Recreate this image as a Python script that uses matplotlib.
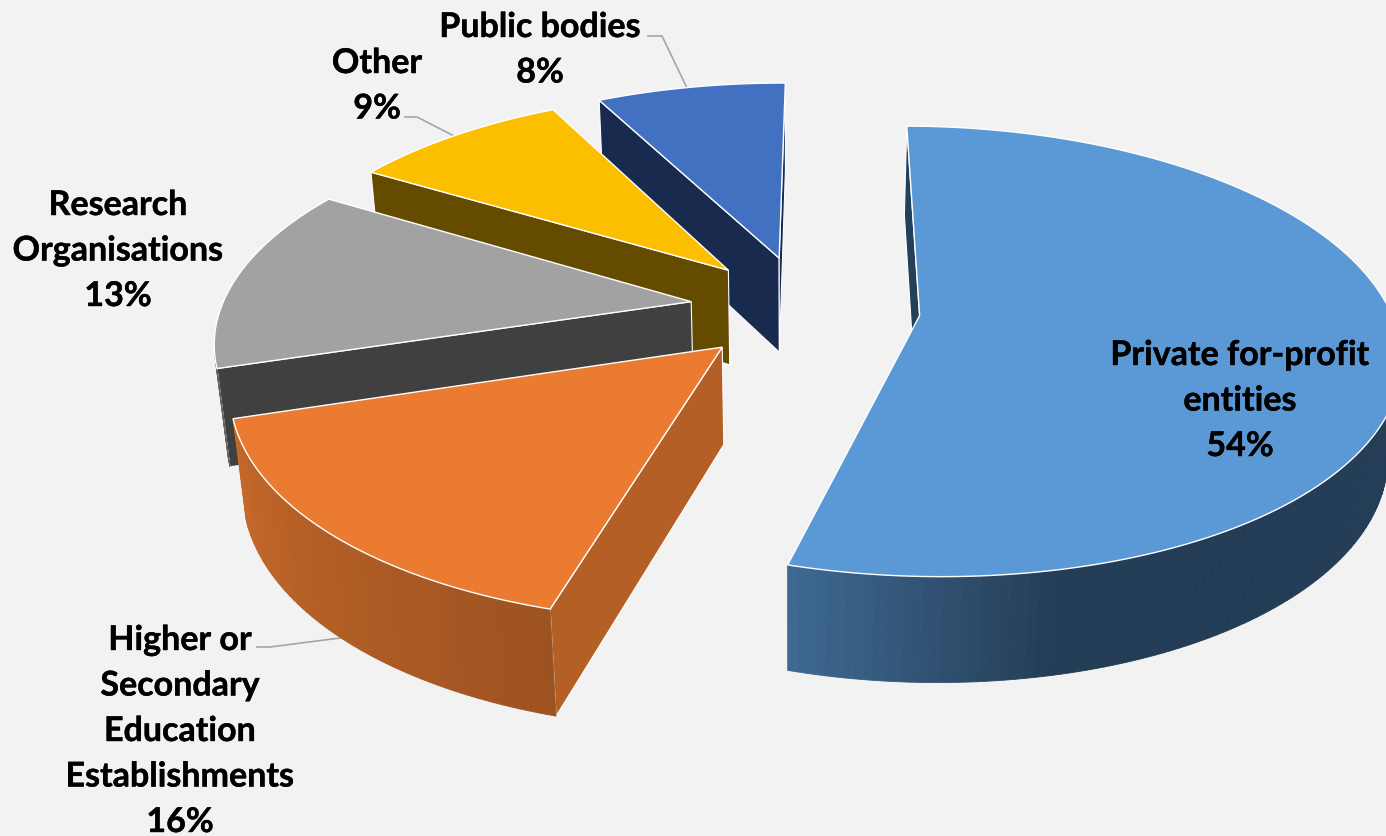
import numpy as np
import matplotlib
matplotlib.use('Agg')
from matplotlib import pyplot as plt
from matplotlib.colors import to_rgb
from matplotlib.patches import Polygon
from matplotlib import patheffects

categories = ['Private for-profit entities', 'Higher or Secondary Education Establishments',
              'Research Organisations', 'Other', 'Public bodies']
# shares, the labels show them rounded
values = [54.3, 15.8, 13.4, 8.8, 7.7]
top_drawn = ['#5b99d6', '#ea7b31', '#a2a2a2', '#fbbf00', '#4371c2']
wall_colors = ['#23405a', '#b35f25', '#404040', '#654b00', '#182b4f']
label_lines = [['Private for-profit', 'entities', '54%'],
               ['Higher or', 'Secondary', 'Education', 'Establishments', '16%'],
               ['Research', 'Organisations', '13%'],
               ['Other', '9%'],
               ['Public bodies', '8%']]
label_x = [1240, 180, 118, 377, 540]
label_y = [355, 640, 205, 63, 27]
line_step = 45.5

# projection of the pie plane, fitted by eye
cx, cy = 805, 308
fx, fy = 470, 217.2
k = 0.158
start_angle = 0.4
explode = 0.245
seg_deg = 1.0


def project(x, y):
    w = 1 + k * y
    return cx + fx * x / w, cy - fy * y / w


def drop(x, y):
    # point on the bottom face, below the top face point
    w = 1 + k * y
    px, py = project(x, y)
    depth = 96 * w ** -0.55
    return px + (790 - px) * 0.00023 * depth, py + depth


def area(pts):
    p = np.array(pts)
    q = np.roll(p, -1, axis=0)
    return np.sum(p[:, 0] * q[:, 1] - q[:, 0] * p[:, 1]) / 2


def shade(color, f):
    return tuple(c * f for c in to_rgb(color))


def rim_shade(i, theta):
    if i == 0:
        return np.interp(theta, [0, 168, 196], [0.40, 0.40, 0.69])
    if i == 1:
        return np.interp(theta, [196, 253.6], [0.67, 0.85])
    return 0.40 if i != 2 else 0.62


fig = plt.figure(figsize=(13.86, 8.36), dpi=100, facecolor='#f2f2f2')
ax = fig.add_axes([0, 0, 1, 1])
ax.set_xlim(0, 1386)
ax.set_ylim(836, 0)
ax.axis('off')

# leader lines go under the slices
leader = dict(color='#a6a6a6', lw=1.2, zorder=1)
ax.plot([648, 662, 688], [36, 36, 90], **leader)
ax.plot([405, 417, 456], [117, 117, 137], **leader)
ax.plot([257, 270, 340], [647, 647, 638], **leader)

shares = np.array(values) / sum(values) * 360
ends = start_angle + np.cumsum(shares)
starts = ends - shares

# back slices first so the nearer ones cover them
z = 2
for i in [4, 3, 2, 1, 0]:
    mid = np.radians((starts[i] + ends[i]) / 2)
    ax0, ay0 = explode * np.sin(mid), explode * np.cos(mid)
    n = int(shares[i] / seg_deg) + 1
    th = np.linspace(starts[i], ends[i], n + 1)
    xs = ax0 + np.sin(np.radians(th))
    ys = ay0 + np.cos(np.radians(th))

    plane = [(ax0, ay0)] + list(zip(xs, ys))
    ring = plane + [plane[0]]
    for j in range(len(ring) - 1):
        a, b = ring[j], ring[j + 1]
        quad = [project(*a), project(*b), drop(*b), drop(*a)]
        if area(quad) >= 0:
            continue
        if j == 0 or j == len(ring) - 2:
            ax.add_patch(Polygon(quad, closed=True, fc=wall_colors[i], ec='white', lw=0.8, zorder=z))
        else:
            c = shade(top_drawn[i], rim_shade(i, (th[j - 1] + th[j]) / 2))
            ax.add_patch(Polygon(quad, closed=True, fc=c, ec=c, lw=0.6, zorder=z))
    z += 1
    top = [project(x, y) for x, y in plane]
    ax.add_patch(Polygon(top, closed=True, fc=top_drawn[i], ec='white', lw=1.0, zorder=z))
    z += 1

stroke = [patheffects.withStroke(linewidth=0.3, foreground='black')]
for lines, x, y in zip(label_lines, label_x, label_y):
    for n, line in enumerate(lines):
        ax.text(x, y + n * line_step, line, family='Lato', fontweight='bold', fontsize=24.5,
                ha='center', va='center', color='black', zorder=z, path_effects=stroke)

fig.savefig('out.png', dpi=100, facecolor=fig.get_facecolor())
